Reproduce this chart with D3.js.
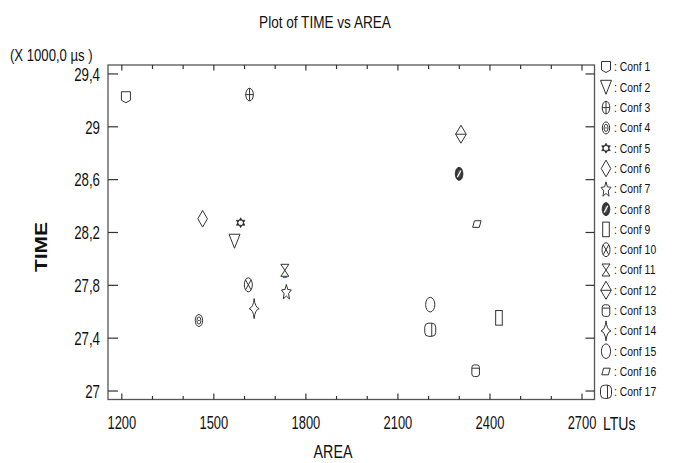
<!DOCTYPE html>
<html>
<head>
<meta charset="utf-8">
<script src="https://cdn.jsdelivr.net/npm/d3@7"></script>
<style>
  html, body { margin: 0; padding: 0; background: #fff; }
  svg { display: block; }
  text { font-family: "Liberation Sans", Arial, sans-serif; fill: #111; }
</style>
</head>
<body>
<svg id="chart" width="680" height="463"></svg>
<script>
// ---- data ----
const confs = ["Conf 1","Conf 2","Conf 3","Conf 4","Conf 5","Conf 6","Conf 7","Conf 8","Conf 9",
               "Conf 10","Conf 11","Conf 12","Conf 13","Conf 14","Conf 15","Conf 16","Conf 17"];
const area = [1215, 1569, 1618, 1453, 1589, 1465, 1738, 2301, 2431, 1614, 1733, 2307, 2355, 1633, 2207, 2359, 2207];
const time = [29.22, 28.13, 29.24, 27.53, 28.27, 28.30, 27.75, 28.64, 27.55, 27.80, 27.91, 28.94, 27.15, 27.62, 27.65, 28.26, 27.46];
const xTicks = [1200, 1500, 1800, 2100, 2400, 2700];
const xMinorTicks = [1300, 1400, 1600, 1700, 1900, 2000, 2200, 2300, 2500, 2600];
const yTicks = [27, 27.4, 27.8, 28.2, 28.6, 29, 29.4];

// ---- layout ----
const L = 108, R = 594.5, T = 65, B = 399.5;
const svg = d3.select("#chart");
const x = d3.scaleLinear().domain([1156.6, 2742.4]).range([L, R]);
const y = d3.scaleLinear().domain([26.932, 29.464]).range([B, T]);

// horizontally condense a text around its anchor x (narrow font look)
function condense(sel, f) {
  sel.each(function () {
    const x0 = +(this.getAttribute("x") || 0);
    const prev = this.getAttribute("transform") || "";
    this.setAttribute("transform", `${prev} translate(${x0},0) scale(${f},1) translate(${-x0},0)`);
  });
}
const fmt = d => String(+d.toFixed(1)).replace(".", ",");

// frame
svg.append("rect").attr("x", L).attr("y", T).attr("width", R - L).attr("height", B - T)
  .attr("fill", "none").attr("stroke", "#555").attr("stroke-width", 1.3);

function styleAxis(g) {
  g.select(".domain").remove();
  g.selectAll(".tick line").attr("stroke", "#333").attr("stroke-width", 1.2);
}

// left axis
const gl = svg.append("g").attr("transform", `translate(${L},0)`)
  .call(d3.axisLeft(y).tickValues(yTicks).tickSizeInner(-10).tickSizeOuter(0).tickPadding(8).tickFormat(fmt));
styleAxis(gl);
gl.selectAll(".tick text").style("font-size", "19px").attr("fill", "#111").attr("dy", "0.36em");
condense(gl.selectAll(".tick text"), 0.7);

// right axis
const gr = svg.append("g").attr("transform", `translate(${R},0)`)
  .call(d3.axisRight(y).tickValues(yTicks).tickSizeInner(-9).tickSizeOuter(0).tickFormat(""));
styleAxis(gr);

// bottom axis major
const gb = svg.append("g").attr("transform", `translate(0,${B})`)
  .call(d3.axisBottom(x).tickValues(xTicks).tickSizeInner(-6).tickSizeOuter(0).tickPadding(16).tickFormat(d3.format("d")));
styleAxis(gb);
gb.selectAll(".tick text").style("font-size", "19px").attr("fill", "#111");
condense(gb.selectAll(".tick text"), 0.68);
const gbm = svg.append("g").attr("transform", `translate(0,${B})`)
  .call(d3.axisBottom(x).tickValues(xMinorTicks).tickSizeInner(-3.5).tickSizeOuter(0).tickFormat(""));
styleAxis(gbm);

// top axis
const gt = svg.append("g").attr("transform", `translate(0,${T})`)
  .call(d3.axisTop(x).tickValues(xTicks).tickSizeInner(-5.5).tickSizeOuter(0).tickFormat(""));
styleAxis(gt);
const gtm = svg.append("g").attr("transform", `translate(0,${T})`)
  .call(d3.axisTop(x).tickValues(xMinorTicks).tickSizeInner(-4).tickSizeOuter(0).tickFormat(""));
styleAxis(gtm);

// titles
const title = svg.append("text").attr("x", 325).attr("y", 28).attr("text-anchor", "middle")
  .style("font-size", "16px").text("Plot of TIME vs AREA");
condense(title, 0.85);
const unit = svg.append("text").attr("x", 10).attr("y", 61).style("font-size", "16px").text("(X 1000,0  µs )");
condense(unit, 0.82);
const ylab = svg.append("text").attr("transform", "translate(47,247) rotate(-90)").attr("text-anchor", "middle")
  .style("font-size", "17px").style("font-weight", "bold").attr("textLength", 50).attr("lengthAdjust", "spacingAndGlyphs").text("TIME");
const xlab = svg.append("text").attr("x", 333).attr("y", 458).attr("text-anchor", "middle")
  .style("font-size", "19px").text("AREA");
condense(xlab, 0.75);
const ltu = svg.append("text").attr("x", 603).attr("y", 430).style("font-size", "19px").text("LTUs");
condense(ltu, 0.74);

// ---- symbols ----
const ST = "#333";
function drawSymbol(g, k) {
  const p = (d, fill) => g.append("path").attr("d", d).attr("fill", fill || "none").attr("stroke", ST).attr("stroke-width", 1);
  const el = (rx, ry, fill) => g.append("ellipse").attr("rx", rx).attr("ry", ry).attr("fill", fill || "#fff").attr("stroke", ST).attr("stroke-width", 1);
  switch (k) {
    case 0: p("M-4.5,-5.5H4.5V3L0,5.5L-4.5,3Z", "#fff"); break;
    case 1: p("M-5.5,-7H5.5L0,7Z", "#fff"); break;
    case 2: el(3.8, 6.3); p("M0,-6.3V6.3M-3.8,0H3.8"); break;
    case 3: el(3.7, 6); el(2, 3.6); p("M-0.8,0H0.8"); break;
    case 4: {
      g.append("path").attr("d", "M0,-5L4.3,2.5H-4.3ZM0,5L4.3,-2.5H-4.3Z").attr("fill", "#222").attr("stroke", "#222").attr("stroke-width", 0.6);
      g.append("circle").attr("r", 1.5).attr("fill", "#fff");
      break;
    }
    case 5: p("M0,-8.3L4.8,0L0,8.3L-4.8,0Z", "#fff"); break;
    case 6: {
      const pts = [];
      for (let i = 0; i < 10; i++) {
        const a = -Math.PI / 2 + i * Math.PI / 5, r = i % 2 ? 0.45 : 1;
        pts.push([Math.cos(a) * r * 5.2, Math.sin(a) * r * 8 + 1]);
      }
      p("M" + pts.map(q => q.join(",")).join("L") + "Z", "#fff");
      break;
    }
    case 7: el(3.8, 6.5, "#333"); el(2.2, 4.2, "#555"); g.append("path").attr("d", "M-1.8,3.4L1.8,-3.4").attr("stroke", "#fff").attr("stroke-width", 1.2); break;
    case 8: g.append("rect").attr("x", -3.3).attr("y", -7.3).attr("width", 6.6).attr("height", 14.6).attr("fill", "#fff").attr("stroke", ST); break;
    case 9: el(4, 7); p("M-2.8,-5L2.8,5M2.8,-5L-2.8,5"); break;
    case 10: p("M-4,-6H4L-4,6H4Z", "#fff"); break;
    case 11: p("M0,-9L5.3,0L0,9L-5.3,0Z", "#fff"); p("M-5.3,0H5.3"); break;
    case 12: g.append("rect").attr("x", -3.8).attr("y", -5.8).attr("width", 7.6).attr("height", 11.6).attr("rx", 2.5).attr("fill", "#fff").attr("stroke", ST); p("M-3.8,-2.5H3.8"); break;
    case 13: p("M0,-10Q0.8,-1.2 5,0Q0.8,1.2 0,10Q-0.8,1.2 -5,0Q-0.8,-1.2 0,-10Z", "#fff"); break;
    case 14: el(4.6, 7.3); break;
    case 15: p("M-2.4,-3.3H4.2L2.4,3.3H-4.2Z", "#fff"); break;
    case 16: g.append("rect").attr("x", -5.5).attr("y", -6.6).attr("width", 11).attr("height", 13.2).attr("rx", 4).attr("fill", "#fff").attr("stroke", ST); p("M1.5,-6.6V6.6"); break;
  }
}

// points
const pts = svg.append("g");
confs.forEach((c, i) => {
  const g = pts.append("g").attr("transform", `translate(${x(area[i])},${y(time[i])})`);
  drawSymbol(g, i);
  if (i === 10) g.append("path").attr("d", "M-2,7H2").attr("stroke", "#3344ff").attr("stroke-width", 1.2);
});

// legend
const lg = svg.append("g");
confs.forEach((c, i) => {
  const yy = 67 + i * 20.3;
  const g = lg.append("g").attr("transform", `translate(606,${yy})`);
  drawSymbol(g, i);
  const t = lg.append("text").attr("x", 614).attr("y", yy + 4.5).style("font-size", "13px").text(": " + c);
  condense(t, 0.8);
});
</script>
</body>
</html>
